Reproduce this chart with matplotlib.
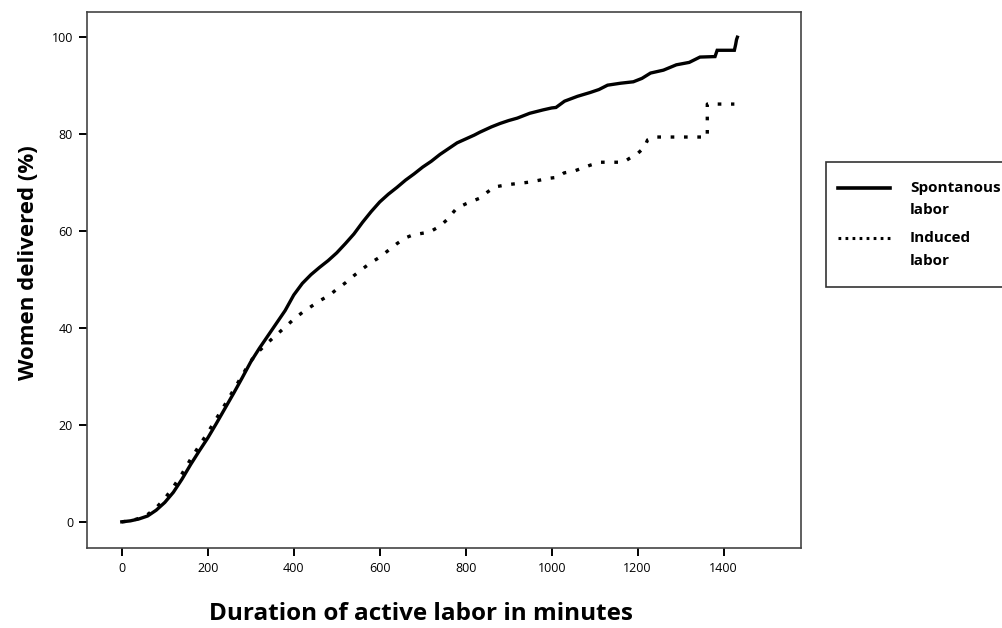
import matplotlib
matplotlib.use("Agg")
import matplotlib.pyplot as plt
from matplotlib.patches import Rectangle
from matplotlib.lines import Line2D

# Spontaneous labor (minutes, % delivered)
spont_min = [0, 20, 40, 60, 80, 100, 120, 140, 160, 180, 200, 220, 240, 260, 280,
             300, 320, 340, 360, 380, 400, 420, 440, 460, 480, 500, 520, 540, 560,
             580, 600, 620, 640, 660, 680, 700, 720, 740, 760, 780, 800, 820, 833,
             860, 880, 900, 920, 949, 980, 1000, 1010, 1030, 1060, 1090, 1110, 1130,
             1160, 1190, 1210, 1230, 1260, 1290, 1320, 1345, 1380, 1385, 1425, 1428,
             1430, 1432]
spont_pct = [0, 0.2, 0.6, 1.2, 2.4, 4.0, 6.1, 8.8, 11.8, 14.6, 17.3, 20.3, 23.4, 26.5,
             29.7, 33.0, 35.8, 38.4, 41.0, 43.6, 46.8, 49.2, 51.0, 52.5, 53.9, 55.5,
             57.4, 59.4, 61.8, 64.0, 66.0, 67.6, 69.0, 70.5, 71.8, 73.2, 74.4, 75.8,
             77.0, 78.2, 79.0, 79.8, 80.4, 81.5, 82.2, 82.8, 83.3, 84.3, 85.0, 85.4,
             85.5, 86.8, 87.8, 88.6, 89.2, 90.1, 90.5, 90.8, 91.5, 92.6, 93.2, 94.3,
             94.8, 95.9, 96.0, 97.3, 97.3, 98.5, 99.5, 100.0]

# Induced labor
ind_min = [0, 20, 40, 60, 80, 100, 120, 140, 160, 180, 200, 220, 240, 260, 280, 300,
           320, 340, 360, 384, 400, 420, 440, 460, 484, 500, 520, 540, 560, 580, 600,
           620, 640, 660, 677, 716, 740, 756, 779, 800, 833, 850, 867, 900, 949, 995,
           1014, 1029, 1053, 1090, 1113, 1167, 1181, 1200, 1216, 1223, 1240, 1362,
           1362, 1425]
ind_pct = [0, 0.2, 0.7, 1.5, 2.9, 4.8, 7.2, 9.9, 12.9, 15.7, 18.4, 21.3, 24.2, 27.2,
           30.2, 33.2, 35.3, 37.0, 38.6, 40.5, 41.8, 43.2, 44.4, 45.6, 46.8, 48.0,
           49.3, 50.8, 52.2, 53.5, 54.6, 56.0, 57.4, 58.6, 59.2, 59.8, 61.0, 62.3,
           64.7, 65.6, 66.8, 68.0, 69.1, 69.6, 70.1, 70.9, 71.1, 72.0, 72.4, 73.6,
           74.2, 74.2, 75.0, 76.0, 77.3, 78.8, 79.4, 79.4, 86.2, 86.2]

legend_labels = [("Spontanous", "labor"), ("Induced", "labor")]

plt.rcParams['font.family'] = ['Open Sans', 'DejaVu Sans']

fig = plt.figure(figsize=(10.02, 6.28), dpi=100)
ax = fig.add_axes([0.0868, 0.1274, 0.7126, 0.8535])

ax.plot(spont_min, spont_pct, color="black", lw=2.4, solid_joinstyle="miter")
ax.plot(ind_min, ind_pct, color="black", lw=2.4, linestyle=(0, (1.1, 2.9)),
        dash_capstyle="butt")

ax.set_xlim(-81, 1580)
ax.set_ylim(-5.4, 105.2)
ax.set_xticks(range(0, 1401, 200))
ax.set_yticks(range(0, 101, 20))
ax.tick_params(direction="out", length=6, width=1.4, labelsize=9, color="black", pad=4)
for s in ax.spines.values():
    s.set_color("#444444")
    s.set_linewidth(1.2)

ax.set_xlabel("Duration of active labor in minutes", fontsize=17.5, fontweight="bold")
ax.xaxis.set_label_coords(0.468, -0.101)
ax.set_ylabel("Women delivered (%)", fontsize=16, fontweight="bold")
ax.yaxis.set_label_coords(-0.067, 0.532)

# legend, SPSS style: handle next to first line of each two-line label
W, H = 1002, 628
fig.patches.append(Rectangle((826 / W, 1 - 287 / H), 200 / W, 125 / H,
                             transform=fig.transFigure, facecolor="white",
                             edgecolor="#333333", linewidth=1.2))
styles = [dict(lw=2.6), dict(lw=2.2, linestyle=(0, (0.9, 1.4)), dash_capstyle="butt")]
for i, (l1, l2) in enumerate(legend_labels):
    y0 = 188 + 50 * i
    fig.add_artist(Line2D([838 / W, 890 / W], [1 - y0 / H, 1 - y0 / H],
                          transform=fig.transFigure, color="black", **styles[i]))
    fig.text(910 / W, 1 - y0 / H, l1, fontsize=11, fontweight="bold", va="center")
    fig.text(910 / W, 1 - (y0 + 22.5) / H, l2, fontsize=11, fontweight="bold",
             va="center")

fig.savefig("out.png", dpi=100)
